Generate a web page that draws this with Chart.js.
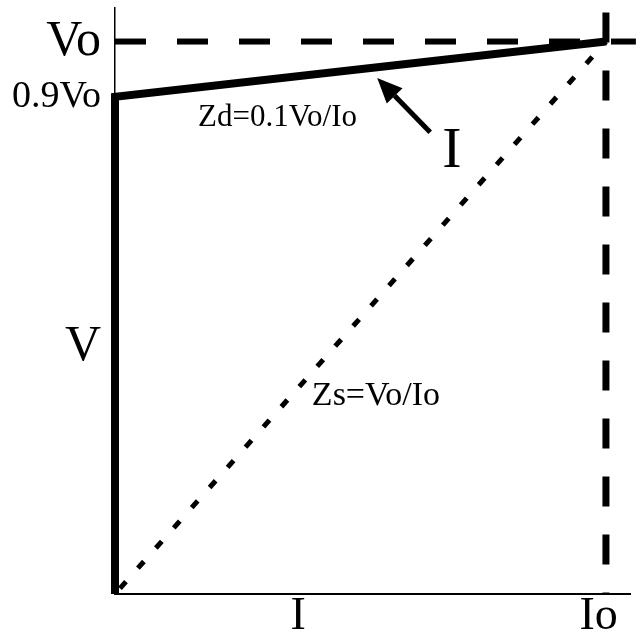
<!DOCTYPE html>
<html>
<head>
  <title>Source impedance V-I curve</title>
  <style>
    body {
      margin: 0;
      background: #fff;
    }
    canvas {
      display: block;
    }
  </style>
</head>
<body>
  <canvas id="viChart" width="640" height="633"></canvas>

  <script src="https://cdn.jsdelivr.net/npm/chart.js"></script>
  <script>
    // data in units of Io (x) and Vo (y)
    const sourceI = [0, 0, 1];
    const sourceV = [0, 0.9, 1];
    const loadI = [0, 1];
    const loadV = [0, 1];
    const voLineI = [0, 1.061];
    const voLineV = [1, 1];
    const ioLineI = [1, 1];
    const ioLineV = [1.0525, 0];

    const xTickValues = [0.373, 0.985];
    const xTickLabels = ['I', 'Io'];
    const yTickValues = [0.447, 0.9, 1];
    const yTickLabels = ['V', '0.9Vo', 'Vo'];

    const serif = "'Liberation Serif', 'DejaVu Serif', serif";

    function toPoints(xs, ys) {
      return xs.map((x, i) => ({ x: x, y: ys[i] }));
    }

    // text and arrow placed in data coordinates
    const notePlugin = {
      id: 'notes',
      afterDatasetsDraw(chart) {
        const ctx = chart.ctx;
        const xs = chart.scales.x;
        const ys = chart.scales.y;
        const px = v => xs.getPixelForValue(v);
        const py = v => ys.getPixelForValue(v);

        ctx.save();
        ctx.fillStyle = '#000';
        ctx.strokeStyle = '#000';
        ctx.textBaseline = 'middle';
        ctx.textAlign = 'left';

        ctx.font = '31px ' + serif;
        ctx.fillText('Zd=0.1Vo/Io', px(0.169), py(0.862));

        ctx.font = '34px ' + serif;
        ctx.fillText('Zs=Vo/Io', px(0.401), py(0.358));

        ctx.textAlign = 'center';
        ctx.font = '58px ' + serif;
        ctx.fillText('I', px(0.686), py(0.80));

        // arrow
        const tx = px(0.642), ty = py(0.836);
        const hx = px(0.534), hy = py(0.934);
        const ang = Math.atan2(hy - ty, hx - tx);
        const headLen = 25, headW = 11;
        const bx = hx - headLen * Math.cos(ang);
        const by = hy - headLen * Math.sin(ang);
        ctx.lineWidth = 5;
        ctx.beginPath();
        ctx.moveTo(tx, ty);
        ctx.lineTo(bx, by);
        ctx.stroke();
        ctx.beginPath();
        ctx.moveTo(hx, hy);
        ctx.lineTo(bx + headW * Math.sin(ang), by - headW * Math.cos(ang));
        ctx.lineTo(bx - headW * Math.sin(ang), by + headW * Math.cos(ang));
        ctx.closePath();
        ctx.fill();
        ctx.restore();
      }
    };

    const ctx = document.getElementById('viChart').getContext('2d');
    const chart = new Chart(ctx, {
      type: 'scatter',
      data: {
        datasets: [
          {
            label: 'Zs',
            data: toPoints(loadI, loadV),
            showLine: true,
            borderColor: '#000',
            borderWidth: 5,
            borderDash: [9, 18],
            borderDashOffset: 19.5,
            borderCapStyle: 'butt',
            pointRadius: 0
          },
          {
            label: 'Vo',
            data: toPoints(voLineI, voLineV),
            showLine: true,
            borderColor: '#000',
            borderWidth: 6,
            borderDash: [31, 31],
            pointRadius: 0,
            clip: false
          },
          {
            label: 'Io',
            data: toPoints(ioLineI, ioLineV),
            showLine: true,
            borderColor: '#000',
            borderWidth: 7,
            borderDash: [30, 28],
            pointRadius: 0,
            clip: false
          },
          {
            label: 'Source',
            data: toPoints(sourceI, sourceV),
            showLine: true,
            borderColor: '#000',
            borderWidth: 8,
            borderJoinStyle: 'miter',
            borderCapStyle: 'butt',
            pointRadius: 0,
            clip: false
          }
        ]
      },
      options: {
        responsive: false,
        animation: false,
        layout: {
          padding: { top: 8, right: 10, left: 0, bottom: 0 }
        },
        plugins: {
          legend: { display: false },
          tooltip: { enabled: false }
        },
        scales: {
          x: {
            type: 'linear',
            min: 0,
            max: 1.049,
            grid: { display: false, drawTicks: false },
            border: { display: true, color: '#000', width: 2 },
            afterBuildTicks: scale => {
              scale.ticks = xTickValues.map(v => ({ value: v }));
            },
            afterFit: scale => {
              scale.height = 39;
              scale.paddingLeft = 0;
              scale.paddingRight = 0;
            },
            ticks: {
              autoSkip: false,
              maxRotation: 0,
              padding: -5,
              color: '#000',
              font: { family: serif, size: 46 },
              callback: value => xTickLabels[xTickValues.indexOf(value)]
            }
          },
          y: {
            type: 'linear',
            min: 0,
            max: 1.0607,
            grid: { display: false, drawTicks: false },
            border: { display: true, color: '#000', width: 1.5 },
            afterBuildTicks: scale => {
              scale.ticks = yTickValues.map(v => ({ value: v }));
            },
            afterFit: scale => {
              scale.width = 115;
              scale.paddingTop = 0;
              scale.paddingBottom = 0;
            },
            ticks: {
              autoSkip: false,
              padding: 14,
              color: '#000',
              font: c => ({ family: serif, size: c.tick && c.tick.value === 0.9 ? 38 : 50 }),
              callback: value => yTickLabels[yTickValues.indexOf(value)]
            }
          }
        }
      },
      plugins: [notePlugin]
    });
  </script>
</body>
</html>
